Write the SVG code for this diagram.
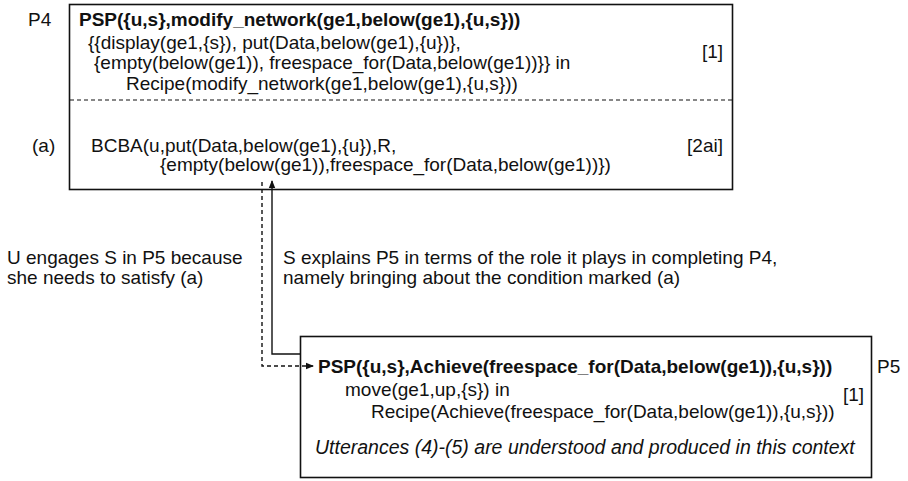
<svg xmlns="http://www.w3.org/2000/svg" width="908" height="481" viewBox="0 0 908 481">
<style>
text{font-family:"Liberation Sans",Arial,Helvetica,sans-serif;font-size:19px;fill:#111}
.b{font-weight:bold}
.i{font-style:italic;font-size:19.5px}
.e{text-anchor:end}
.box{fill:#fff;stroke:#111;stroke-width:1.6}
.sep{stroke:#111;stroke-width:1.2;stroke-dasharray:4 3;fill:none}
.c{fill:none;stroke:#111;stroke-width:1.4}
.d{stroke-dasharray:4 3}
</style>
<defs>
<marker id="ah" viewBox="0 0 8 8" refX="7" refY="4" markerWidth="8" markerHeight="8" markerUnits="userSpaceOnUse" orient="auto">
<path d="M0,0.8 L8,4 L0,7.2 z" fill="#111"/>
</marker>
</defs>
<g id="P4">
<rect class="box" x="69.5" y="4.5" width="663" height="185"/>
<text x="28" y="26">P4</text>
<text class="b" x="79" y="26">PSP({u,s},modify_network(ge1,below(ge1),{u,s}))</text>
<text x="88" y="49">{{display(ge1,{s}), put(Data,below(ge1),{u})},</text>
<text class="e" x="723" y="58">[1]</text>
<text x="94" y="69">{empty(below(ge1)), freespace_for(Data,below(ge1))}} in</text>
<text x="126" y="90">Recipe(modify_network(ge1,below(ge1),{u,s}))</text>
<line class="sep" x1="70" y1="100" x2="732" y2="100"/>
<text x="32" y="152">(a)</text>
<text x="91" y="152">BCBA(u,put(Data,below(ge1),{u}),R,</text>
<text class="e" x="723" y="152">[2ai]</text>
<text x="160" y="171">{empty(below(ge1)),freespace_for(Data,below(ge1))})</text>
</g>
<g id="P5">
<rect class="box" x="300.5" y="336.5" width="571" height="141"/>
<text x="877" y="373">P5</text>
<text class="b" x="318" y="373">PSP({u,s},Achieve(freespace_for(Data,below(ge1)),{u,s}))</text>
<text x="345" y="396">move(ge1,up,{s}) in</text>
<text class="e" x="864" y="401">[1]</text>
<text x="371" y="418">Recipe(Achieve(freespace_for(Data,below(ge1)),{u,s}))</text>
<text class="i" x="315" y="454">Utterances (4)-(5) are understood and produced in this context</text>
</g>
<g id="labels">
<text x="7" y="264">U engages S in P5 because</text>
<text x="7" y="284">she needs to satisfy (a)</text>
<text x="283" y="264">S explains P5 in terms of the role it plays in completing P4,</text>
<text x="283" y="284">namely bringing about the condition marked (a)</text>
</g>
<g id="connectors">
<path class="c d" d="M262,182 V366 H313" marker-end="url(#ah)"/>
<path class="c" d="M300,354 H272 V181" marker-end="url(#ah)"/>
</g>
</svg>
